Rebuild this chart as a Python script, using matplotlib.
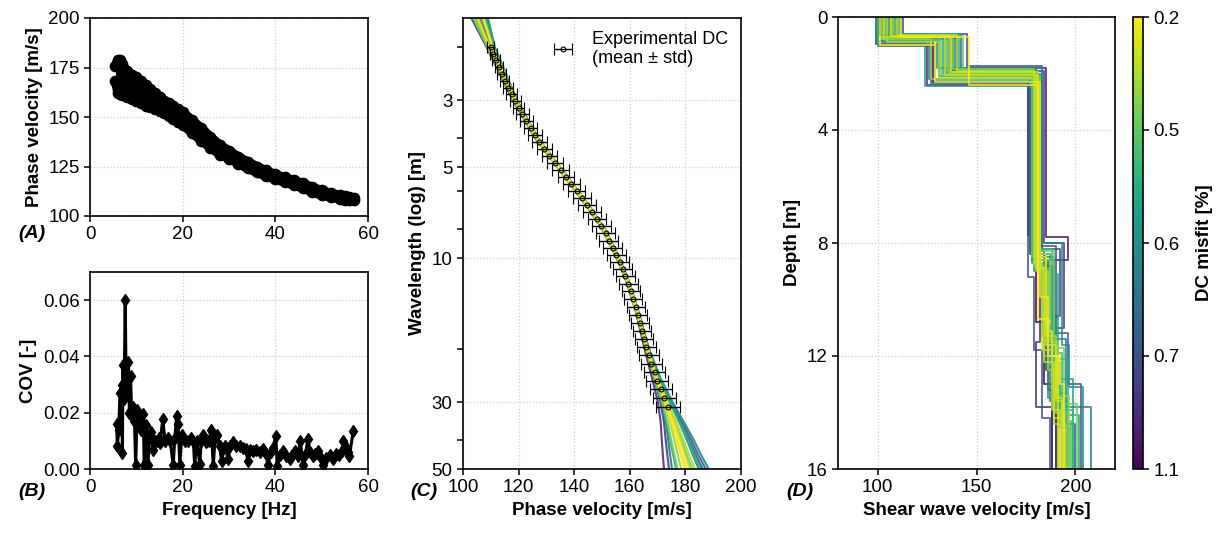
import numpy as np
import matplotlib
matplotlib.use("Agg")
import matplotlib.pyplot as plt
from matplotlib.ticker import FixedLocator, NullFormatter, FormatStrFormatter
from matplotlib.cm import ScalarMappable
from matplotlib.colors import Normalize

plt.rcParams['font.family'] = ['Liberation Sans', 'DejaVu Sans']
plt.rcParams['font.size'] = 13.5

# (A) picked dispersion data: envelope of the point cloud
freq_a = [5.5, 6, 6.5, 7, 8, 9, 10, 11, 12, 13, 14, 15, 16, 17, 18, 19, 20, 22, 24,
          26, 28, 30, 32, 34, 36, 38, 40, 42, 44, 46, 48, 50, 52, 54, 55, 56, 57]
vel_hi = [176, 179, 179, 177, 173, 171, 170, 168, 166, 164, 162, 160, 158, 157, 155.5,
          154, 152.5, 148.5, 144.5, 140, 136, 133, 130, 127.5, 125, 123, 121, 119.5, 118,
          116.5, 114.5, 113, 111.5, 110.5, 110, 109.5, 109]
vel_lo = [168, 162, 161.5, 161, 160, 159, 158, 157, 155.5, 155, 154, 153, 152, 150.5, 149,
          147.5, 146, 142, 138, 134.5, 131, 129, 126.5, 124, 122, 120, 118.5, 117, 115.5,
          114, 112, 110.5, 109.5, 108.5, 108, 108, 108]

# (B) coefficient of variation
freq_b = [5.75, 5.9, 6.2, 6.47, 6.8, 7.0, 7.1, 7.35, 7.6, 7.8, 8.0, 8.3, 8.5, 8.75, 9.0,
          9.3, 9.6, 9.85, 10.2, 10.5, 10.7, 11.0, 11.3, 11.5, 11.7, 12.1, 12.5, 12.9, 13.2,
          13.6, 14.0, 14.4, 14.8, 15.1, 15.7, 16.2, 16.8, 17.3, 17.96, 18.3, 18.7, 19.0,
          19.4, 19.8, 20.5, 21.2, 21.8, 22.3, 22.6, 23.0, 23.7, 24.0, 24.4, 25.0, 25.6,
          26.2, 26.6, 27.0, 27.5, 28.0, 28.4, 28.7, 29.2, 29.8, 30.3, 30.9, 31.5, 32.3,
          33.0, 33.6, 34.1, 34.5, 35.2, 35.9, 36.6, 37.4, 38.0, 38.4, 39.0, 39.5, 40.1,
          40.4, 41.0, 41.7, 42.4, 43.1, 43.7, 44.2, 44.8, 45.4, 46.0, 46.5, 47.0, 47.5,
          48.1, 48.6, 49.2, 49.8, 50.3, 51.0, 51.7, 52.4, 53.1, 53.8, 54.3, 54.7, 55.3,
          55.7, 56.0, 56.8]
cov_b = [0.016, 0.008, 0.014, 0.027, 0.030, 0.0057, 0.037, 0.025, 0.060, 0.030, 0.028,
         0.038, 0.020, 0.033, 0.019, 0.022, 0.017, 0.0014, 0.021, 0.018, 0.0165, 0.014,
         0.016, 0.0194, 0.0014, 0.0158, 0.0014, 0.0116, 0.013, 0.0068, 0.010, 0.0098,
         0.011, 0.0092, 0.0176, 0.010, 0.011, 0.010, 0.0014, 0.011, 0.0188, 0.016, 0.0014,
         0.012, 0.010, 0.0098, 0.011, 0.010, 0.001, 0.010, 0.0017, 0.010, 0.012, 0.0095,
         0.010, 0.014, 0.001, 0.011, 0.012, 0.008, 0.0027, 0.007, 0.008, 0.0034, 0.008,
         0.0095, 0.008, 0.008, 0.0075, 0.007, 0.0027, 0.0067, 0.0065, 0.0067, 0.006, 0.007,
         0.0055, 0.0013, 0.006, 0.0075, 0.0119, 0.001, 0.005, 0.0065, 0.0045, 0.0034,
         0.005, 0.0065, 0.0045, 0.0098, 0.0013, 0.005, 0.0107, 0.006, 0.0046, 0.0055,
         0.0065, 0.004, 0.0013, 0.004, 0.005, 0.0035, 0.0055, 0.005, 0.0065, 0.0098,
         0.0077, 0.006, 0.0047, 0.0134]

# (C) experimental dispersion curve
exp_wl = [2.00, 2.10, 2.21, 2.33, 2.45, 2.58, 2.72, 2.86, 3.01, 3.17, 3.34, 3.52, 3.71,
          3.91, 4.12, 4.34, 4.58, 4.83, 5.09, 5.37, 5.67, 5.98, 6.31, 6.66, 7.03, 7.42,
          7.84, 8.28, 8.75, 9.25, 9.78, 10.3, 10.9, 11.5, 12.2, 12.9, 13.7, 14.5, 15.4,
          16.4, 17.4, 18.5, 19.7, 21.0, 22.4, 23.9, 25.5, 27.2, 29.1, 31.1]
exp_vr = [110.0, 110.9, 111.8, 112.9, 113.9, 115.0, 116.3, 117.5, 118.8, 120.0, 121.4,
          122.8, 124.3, 125.8, 127.5, 129.2, 131.1, 133.1, 135.1, 137.0, 138.9, 140.9,
          142.7, 144.5, 146.4, 148.1, 149.8, 151.3, 152.5, 153.8, 155.2, 156.3, 157.4,
          158.4, 159.5, 160.3, 161.2, 162.1, 162.9, 163.6, 164.3, 165.1, 166.0, 166.9,
          167.8, 168.9, 169.9, 171.1, 172.4, 173.7]
exp_std = [1.2, 1.3, 1.4, 1.5, 1.6, 1.7, 1.8, 1.9, 2.0, 2.1, 2.2, 2.3, 2.4, 2.5, 2.6, 2.7,
           2.8, 2.9, 3.0, 3.0, 3.1, 3.1, 3.2, 3.2, 3.3, 3.3, 3.3, 3.4, 3.4, 3.4, 3.4, 3.4,
           3.4, 3.3, 3.3, 3.2, 3.2, 3.2, 3.2, 3.3, 3.3, 3.4, 3.5, 3.6, 3.7, 3.8, 3.9, 4.0,
           4.1, 4.2]

# (C) theoretical dispersion curves of the inverted models
theo_wl = [1.6, 2, 3, 4, 5, 6, 7, 8, 10, 12, 15, 20, 25, 30, 35, 40, 45, 50]
theo_vr = [
    [103.0, 108.5, 117.9, 126.0, 134.0, 140.5, 145.8, 150.0, 155.3, 158.8, 162.1, 165.3, 168.0, 170.1, 171.1, 171.5, 171.9, 172.3],
    [108.4, 111.2, 119.3, 126.9, 134.9, 141.4, 146.7, 150.9, 156.2, 159.7, 163.0, 166.3, 169.2, 171.6, 173.0, 173.8, 174.5, 175.2],
    [104.5, 109.3, 118.3, 126.3, 134.3, 140.8, 146.1, 150.3, 155.6, 159.1, 162.4, 165.8, 168.8, 171.5, 173.3, 174.5, 175.6, 176.6],
    [106.9, 110.5, 118.9, 126.7, 134.7, 141.2, 146.5, 150.7, 156.0, 159.5, 162.8, 166.2, 169.5, 172.4, 174.5, 176.0, 177.3, 178.5],
    [105.4, 109.7, 118.5, 126.4, 134.4, 140.9, 146.2, 150.4, 155.7, 159.2, 162.5, 166.1, 169.4, 172.6, 175.0, 176.8, 178.3, 179.7],
    [107.5, 110.8, 119.1, 126.8, 134.8, 141.3, 146.6, 150.8, 156.1, 159.6, 162.9, 166.5, 170.0, 173.4, 176.1, 178.2, 179.9, 181.6],
    [103.6, 108.8, 118.1, 126.1, 134.1, 140.6, 145.9, 150.1, 155.4, 158.9, 162.2, 165.9, 169.6, 173.2, 176.2, 178.6, 180.5, 182.4],
    [109.0, 111.5, 119.5, 127.0, 135.0, 141.5, 146.8, 151.0, 156.3, 159.8, 163.1, 166.9, 170.7, 174.5, 177.8, 180.5, 182.7, 184.8],
    [105.1, 109.6, 118.5, 126.4, 134.4, 140.9, 146.2, 150.4, 155.7, 159.2, 162.5, 166.4, 170.4, 174.5, 178.2, 181.3, 183.8, 186.2],
    [107.8, 110.9, 119.2, 126.8, 134.8, 141.3, 146.6, 150.8, 156.1, 159.6, 162.9, 166.9, 171.1, 175.4, 179.5, 183.0, 185.7, 188.4],
    [106.6, 110.3, 118.9, 126.6, 134.6, 141.1, 146.4, 150.6, 155.9, 159.4, 162.7, 166.0, 168.8, 171.0, 172.3, 172.9, 173.5, 174.1],
    [104.2, 109.1, 118.2, 126.2, 134.2, 140.7, 146.0, 150.2, 155.5, 159.0, 162.3, 165.8, 168.9, 171.7, 173.6, 174.9, 176.1, 177.2],
    [107.2, 110.6, 119.0, 126.7, 134.7, 141.2, 146.5, 150.7, 156.0, 159.5, 162.8, 166.4, 169.8, 173.0, 175.5, 177.4, 179.0, 180.5],
    [104.8, 109.4, 118.4, 126.3, 134.3, 140.8, 146.1, 150.3, 155.6, 159.1, 162.4, 166.2, 169.9, 173.6, 176.8, 179.3, 181.4, 183.4],
    [108.1, 111.1, 119.3, 126.9, 134.9, 141.4, 146.7, 150.9, 156.2, 159.7, 163.0, 166.8, 170.7, 174.6, 178.1, 181.0, 183.3, 185.6],
    [105.7, 109.9, 118.6, 126.5, 134.5, 141.0, 146.3, 150.5, 155.8, 159.3, 162.6, 166.5, 170.6, 174.9, 178.8, 182.1, 184.7, 187.3],
]
theo_misfit = [0.9, 0.65, 0.55, 0.4, 0.22, 0.3, 0.5, 0.6, 0.7, 0.62, 0.8, 0.45, 0.2, 0.35,
               0.55, 0.68]

# (D) inverted Vs profiles (6 layers, last one half-space)
prof_misfit = [1.10, 1.00, 0.92, 0.85, 0.80, 0.76, 0.72, 0.70, 0.68, 0.66, 0.64, 0.62, 0.61,
               0.60, 0.58, 0.56, 0.55, 0.53, 0.52, 0.50, 0.47, 0.44, 0.41, 0.38, 0.35, 0.32,
               0.29, 0.26, 0.23, 0.20]
vs1 = [101, 112, 99, 108, 104, 113, 100, 106, 110, 102, 109, 105, 111, 99, 107, 103, 112,
       100, 106, 109, 104, 111, 102, 108, 105, 110, 103, 107, 101, 112]
h1 = [0.62, 0.75, 0.95, 0.68, 0.80, 0.60, 1.02, 0.72, 0.66, 0.90, 0.70, 0.78, 0.64, 0.85,
      0.73, 0.69, 0.60, 0.98, 0.74, 0.67, 0.82, 0.63, 0.77, 0.70, 0.88, 0.65, 0.72, 0.68,
      1.00, 0.71]
vs2 = [128, 140, 125, 136, 131, 145, 127, 138, 142, 126, 134, 139, 130, 124, 137, 133, 141,
       129, 135, 143, 132, 138, 127, 136, 131, 140, 134, 137, 129, 146]
h2 = [2.30, 1.80, 2.40, 1.90, 2.10, 1.75, 2.35, 2.00, 1.85, 2.20, 1.95, 2.05, 1.80, 2.45,
      1.90, 2.00, 1.85, 2.25, 1.95, 1.90, 2.10, 1.85, 2.20, 2.00, 2.15, 1.90, 2.05, 1.95,
      2.30, 2.40]
vs3 = [176, 185, 177, 184, 178, 183, 176, 182, 180, 177, 181, 179, 183, 178, 180, 182, 179,
       181, 180, 178, 182, 179, 181, 180, 181, 179, 180, 181, 182, 181]
h3 = [7.7, 7.8, 8.4, 8.0, 8.6, 8.2, 9.2, 8.1, 8.8, 8.3, 8.5, 9.0, 8.0, 8.7, 8.4, 9.1, 8.6,
      8.2, 8.9, 8.5, 8.3, 8.8, 8.6, 9.0, 8.4, 8.7, 8.9, 8.5, 9.9, 10.7]
vs4 = [180, 196, 182, 194, 186, 192, 179, 190, 188, 184, 189, 185, 193, 183, 187, 191, 184,
       188, 186, 185, 189, 184, 187, 186, 185, 183, 184, 185, 186, 186]
h4 = [10.8, 8.6, 11.5, 11.0, 12.0, 10.6, 11.8, 11.2, 12.2, 10.9, 11.4, 12.4, 11.6, 11.3,
      10.7, 12.1, 11.0, 11.9, 12.3, 11.1, 11.7, 12.0, 11.5, 12.5, 11.3, 11.8, 12.2, 11.6,
      11.1, 12.0]
vs5 = [184, 185, 180, 186, 190, 190, 183, 196, 192, 187, 195, 191, 197, 186, 190, 196, 189,
       193, 192, 188, 194, 190, 191, 189, 190, 188, 189, 190, 188, 192]
h5 = [13.0, 12.5, 13.8, 13.2, 14.0, 13.4, 14.2, 13.0, 14.4, 13.6, 13.8, 14.5, 13.1, 13.5,
      12.8, 14.1, 13.3, 13.9, 14.3, 13.2, 13.7, 14.0, 13.4, 14.4, 13.6, 13.9, 14.2, 13.5,
      12.0, 13.0]
vs6 = [190, 188, 188, 190, 196, 193, 187, 203, 200, 193, 208, 197, 204, 191, 199, 202, 195,
       199, 198, 194, 201, 196, 197, 195, 193, 192, 194, 193, 191, 194]

# colorbar: misfit values placed at evenly spaced positions
cbar_misfit = [0.2, 0.5, 0.6, 0.7, 1.1]
cbar_pos = [1.0, 0.75, 0.5, 0.25, 0.0]


def misfit_color(m):
    return plt.cm.viridis(np.interp(m, cbar_misfit, cbar_pos))


def style_axis(ax):
    for s in ax.spines.values():
        s.set_linewidth(1.2)
    ax.tick_params(direction='out', length=4, width=1.1, labelsize=13.5, which='both')
    ax.grid(True, color='#cfcfcf', linestyle=':', linewidth=0.9)
    ax.set_axisbelow(True)


W, H = 1220, 538
fig = plt.figure(figsize=(W / 100, H / 100), dpi=100)


def add_ax(x0, x1, y0, y1):
    return fig.add_axes([x0 / W, 1 - y1 / H, (x1 - x0) / W, (y1 - y0) / H])


lab = dict(fontsize=13.5, fontweight='bold')

# (A)
axA = add_ax(90, 368, 18, 216)
style_axis(axA)
fA = np.array(freq_a)
axA.fill_between(fA, vel_lo, vel_hi, color='k', lw=0)
axA.plot(fA, vel_lo, color='k', lw=6.5, solid_capstyle='round', solid_joinstyle='round')
axA.plot(fA, vel_hi, color='k', lw=6.5, solid_capstyle='round', solid_joinstyle='round')
axA.scatter(fA, vel_lo, s=55, color='k')
axA.scatter(fA, vel_hi, s=55, color='k')
axA.set_xlim(0, 60)
axA.set_ylim(100, 200)
axA.set_xticks([0, 20, 40, 60])
axA.set_yticks([100, 125, 150, 175, 200])
axA.set_ylabel('Phase velocity [m/s]', **lab)

# (B)
axB = add_ax(90, 368, 272, 469)
style_axis(axB)
axB.plot(freq_b, cov_b, '-d', color='k', lw=2.2, ms=6)
axB.set_xlim(0, 60)
axB.set_ylim(0, 0.07)
axB.set_xticks([0, 20, 40, 60])
axB.set_yticks([0, 0.02, 0.04, 0.06])
axB.yaxis.set_major_formatter(FormatStrFormatter('%.2f'))
axB.set_ylabel('COV [-]', **lab)
axB.set_xlabel('Frequency [Hz]', **lab)

# (C)
axC = add_ax(463, 741, 18, 469)
style_axis(axC)
order = np.argsort(theo_misfit)[::-1]
for i in order:
    axC.plot(theo_vr[i], theo_wl, color=misfit_color(theo_misfit[i]), lw=1.5, alpha=0.9)
axC.errorbar(exp_vr, exp_wl, xerr=exp_std, fmt='o', ms=3.5, mfc='none', mec='k', mew=0.8,
             ecolor='k', elinewidth=1.0, capsize=4, capthick=1.0,
             label='Experimental DC\n(mean \u00b1 std)')
axC.set_yscale('log')
axC.set_ylim(50, 1.6)
axC.set_xlim(100, 200)
axC.set_xticks([100, 120, 140, 160, 180, 200])
axC.yaxis.set_major_locator(FixedLocator([3, 5, 10, 30, 50]))
axC.yaxis.set_minor_locator(FixedLocator([2, 4, 6, 8, 20, 40]))
axC.yaxis.set_major_formatter(FormatStrFormatter('%g'))
axC.yaxis.set_minor_formatter(NullFormatter())
axC.set_ylabel('Wavelength (log) [m]', **lab)
axC.set_xlabel('Phase velocity [m/s]', **lab)
axC.legend(loc='upper right', frameon=False, fontsize=13, handlelength=1.2,
           handletextpad=1.0, borderaxespad=0.3)

# (D)
axD = add_ax(838, 1115, 17, 469)
style_axis(axD)
order = np.argsort(prof_misfit)[::-1]
for i in order:
    vs = [vs1[i], vs2[i], vs3[i], vs4[i], vs5[i], vs6[i]]
    bounds = [0, h1[i], h2[i], h3[i], h4[i], h5[i], 16]
    z = np.repeat(bounds, 2)[1:-1]
    v = np.repeat(vs, 2)
    axD.plot(v, z, color=misfit_color(prof_misfit[i]), lw=1.4, alpha=0.8)
axD.set_xlim(80, 220)
axD.set_ylim(16, 0)
axD.set_xticks([100, 150, 200])
axD.set_yticks([0, 4, 8, 12, 16])
axD.set_ylabel('Depth [m]', **lab)
axD.set_xlabel('Shear wave velocity [m/s]', **lab)

# colorbar
cax = add_ax(1133, 1143, 17, 469)
sm = ScalarMappable(norm=Normalize(0, 1), cmap='viridis')
cb = fig.colorbar(sm, cax=cax, ticks=cbar_pos)
cb.ax.set_yticklabels([f'{m:g}' for m in cbar_misfit])
cb.ax.tick_params(labelsize=13.5, length=4, width=1.1)
cb.outline.set_linewidth(1.2)
cb.set_label('DC misfit [%]', labelpad=12, **lab)

for x, y, t in [(32, 234, '(A)'), (32, 492, '(B)'), (424, 492, '(C)'), (800, 492, '(D)')]:
    fig.text(x / W, 1 - y / H, t, fontsize=14, fontweight='bold', style='italic',
             ha='center', va='center')

fig.savefig('out.png', dpi=100)
